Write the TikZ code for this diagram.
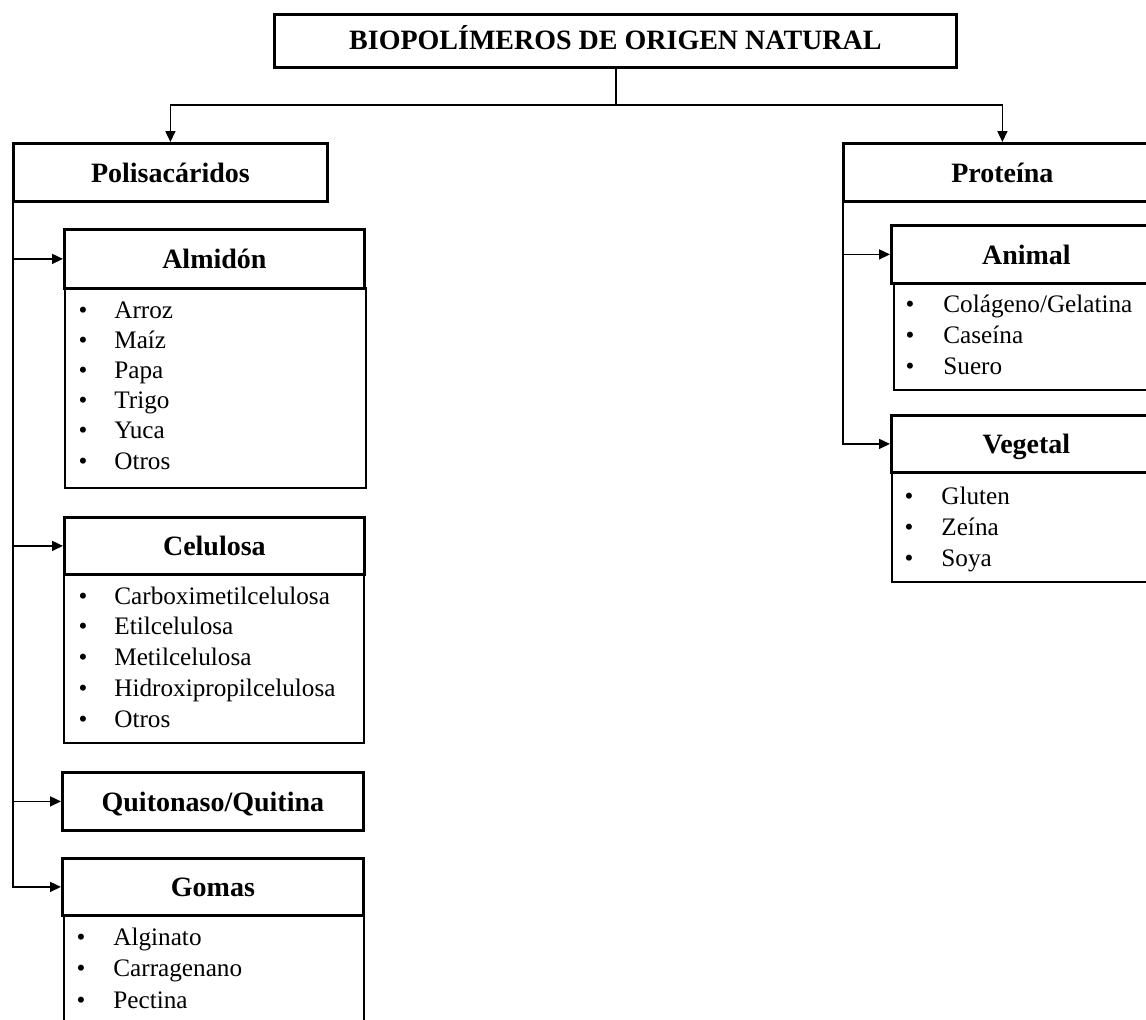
\documentclass[tikz,border=0pt]{standalone}
\usepackage{fontspec}
\setmainfont{Liberation Serif}
\usetikzlibrary{arrows.meta}
\begin{document}
\begin{tikzpicture}[x=0.5pt,y=-0.5pt,
  hdr/.style={draw, line width=1.4pt, inner sep=0pt, anchor=north west,
    font=\bfseries\fontsize{14}{16}\selectfont, text height=10pt, text depth=0pt},
  lst/.style={draw, line width=0.9pt, inner sep=0pt, anchor=north west},
  itm/.style={font=\fontsize{12.6}{15}\selectfont, inner sep=0pt, anchor=base west},
  bul/.style={font=\fontsize{12.6}{15}\selectfont, inner sep=0pt, anchor=base},
  conn/.style={line width=0.8pt},
  arr/.style={conn, -{Triangle[length=5.5pt,width=5pt]}}]
\useasboundingbox (0,0) rectangle (1146,1019);
\clip (0,0) rectangle (1146,1019);

% title and level 1
\node[hdr, minimum width=341pt, minimum height=26.5pt, text height=9pt] (title) at (273,13) {BIOPOLÍMEROS DE ORIGEN NATURAL};
\node[hdr, minimum width=157pt, minimum height=29pt] (polis) at (12,142) {Polisacáridos};
\node[hdr, minimum width=159pt, minimum height=29pt] (prot) at (842,142) {Proteína};

\coordinate (hub) at (616,105);
\draw[conn] (title.south -| hub) -- (hub);
\draw[arr] (hub) -| (polis.north);
\draw[arr] (hub) -| (prot.north);

% left branch
\node[hdr, minimum width=150pt, minimum height=29.5pt] (alm) at (63,228) {Almidón};
\node[lst, minimum width=150.5pt, minimum height=100pt] (almlist) at (64,287) {};
\node[hdr, minimum width=150pt, minimum height=28.5pt] (cel) at (63,516) {Celulosa};
\node[lst, minimum width=150pt, minimum height=84.5pt] (cellist) at (63,573) {};
\node[hdr, minimum width=150.5pt, minimum height=29pt] (quit) at (61,771) {Quitonaso/Quitina};
\node[hdr, minimum width=150.5pt, minimum height=28.5pt] (gom) at (61,857) {Gomas};
\node[lst, minimum width=150pt, minimum height=60pt] (gomlist) at (63,914) {};

\foreach \n in {alm,cel,quit,gom}
  \draw[arr] ([xshift=0.5pt]polis.south west) |- (\n.west);

\foreach \t [count=\i] in {Arroz,Maíz,Papa,Trigo,Yuca,Otros}{
  \node[bul] (almb\i) at (83,{318+30.2*(\i-1)}) {•};
  \node[itm] (almi\i) at (114,{318+30.2*(\i-1)}) {\t};
}
\foreach \t [count=\i] in {Carboximetilcelulosa,Etilcelulosa,Metilcelulosa,Hidroxipropilcelulosa,Otros}{
  \node[bul] (celb\i) at (83,{604+30.75*(\i-1)}) {•};
  \node[itm] (celi\i) at (114,{604+30.75*(\i-1)}) {\t};
}
\foreach \t [count=\i] in {Alginato,Carragenano,Pectina}{
  \node[bul] (gomb\i) at (81,{945+31.5*(\i-1)}) {•};
  \node[itm] (gomi\i) at (113,{945+31.5*(\i-1)}) {\t};
}

% right branch
\node[hdr, minimum width=135pt, minimum height=29pt] (ani) at (890,224) {Animal};
\node[lst, minimum width=135pt, minimum height=53.5pt] (anilist) at (893,282) {};
\node[hdr, minimum width=135pt, minimum height=28.5pt] (veg) at (890,414) {Vegetal};
\node[lst, minimum width=135pt, minimum height=55pt] (veglist) at (891,471) {};

\foreach \n in {ani,veg}
  \draw[arr] ([xshift=0.5pt]prot.south west) |- (\n.west);

\foreach \t [count=\i] in {Colágeno/Gelatina,Caseína,Suero}{
  \node[bul] (anib\i) at (910,{312+31*(\i-1)}) {•};
  \node[itm] (anii\i) at (943,{312+31*(\i-1)}) {\t};
}
\foreach \t [count=\i] in {Gluten,Zeína,Soya}{
  \node[bul] (vegb\i) at (909,{504+31*(\i-1)}) {•};
  \node[itm] (vegi\i) at (941,{504+31*(\i-1)}) {\t};
}
\end{tikzpicture}
\end{document}
